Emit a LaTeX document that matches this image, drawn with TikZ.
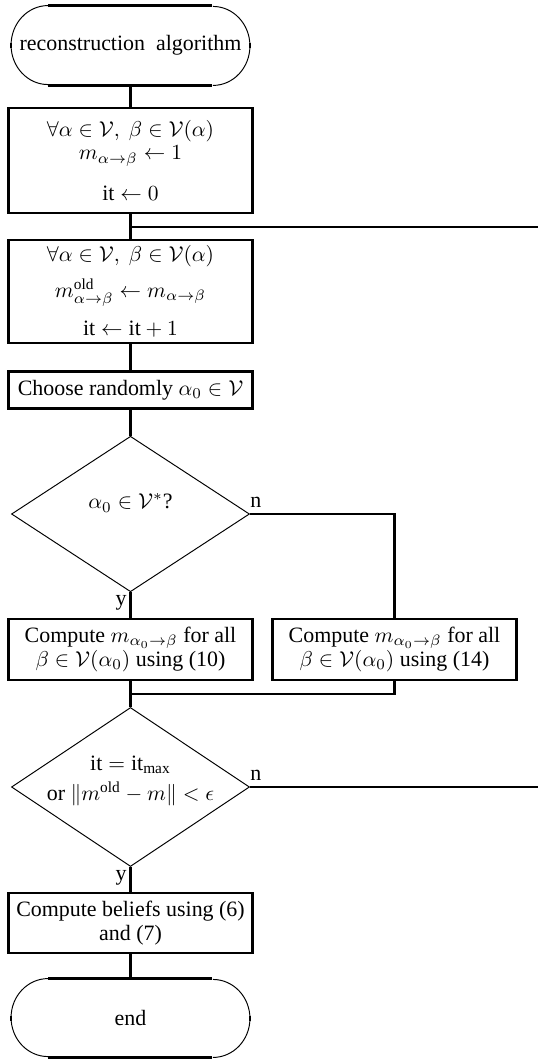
\documentclass[tikz,border=0pt]{standalone}
\usepackage{fontspec}
\setmainfont{Liberation Serif}
\usetikzlibrary{shapes.geometric}
\newcommand\pxs{0.465pt}
\newcommand\drawterm[2]{%
  \draw[thickline] (#1.north west) ++(37,0) -- ++(164,0);
  \draw[thickline] (#1.south west) ++(37,0) -- ++(164,0);
  \draw[thinline] (#1.north west) ++(37,0) arc[start angle=90,end angle=270,x radius={37*\pxs},y radius={#2*\pxs}];
  \draw[thinline] (#1.south east) ++(-37,0) arc[start angle=270,end angle=450,x radius={37*\pxs},y radius={#2*\pxs}];
  \draw[line width=1.3pt] (#1.west) ++(0,-2.5) -- ++(0,5);
  \draw[line width=1.3pt] (#1.east) ++(0,-2.5) -- ++(0,5);
}
\begin{document}
\begin{tikzpicture}[x=0.465pt,y=-0.465pt,
  font=\fontsize{10.2pt}{11pt}\selectfont,
  thinline/.style={line width=0.45pt},
  thickline/.style={line width=1.25pt},
  conn/.style={line width=1.25pt},
  procbox/.style={draw,line width=1.25pt,minimum width={244*\pxs},inner sep=0pt,align=center},
  decision/.style={draw,diamond,line width=0.45pt,inner sep=0pt,minimum width={238*\pxs}},
  termnode/.style={inner sep=0pt,minimum width={238*\pxs},minimum height={79*\pxs}},
  lbl/.style={inner sep=0pt}]
\useasboundingbox (0,0) rectangle (538,1059);

\node[termnode] (start) at (130.5,45.5) {reconstruction\ \ algorithm};
\drawterm{start}{39.5}

\node[procbox,minimum height={105*\pxs}] (b1) at (130.5,160.5)
  {$\forall\alpha\in\mathcal{V},\ \beta\in\mathcal{V}(\alpha)$\\
   $m_{\alpha\to\beta}\leftarrow 1$\\[8pt]
   $\mathrm{it}\leftarrow 0$};
\coordinate (j1) at (130.5,227);
\coordinate (j1r) at (538,227);

\node[procbox,minimum height={103*\pxs}] (b2) at (130.5,291.5)
  {$\forall\alpha\in\mathcal{V},\ \beta\in\mathcal{V}(\alpha)$\\[4.5pt]
   $m^{\mathrm{old}}_{\alpha\to\beta}\leftarrow m_{\alpha\to\beta}$\\[6pt]
   $\mathrm{it}\leftarrow\mathrm{it}+1$};

\node[procbox,minimum height={36.5*\pxs}] (b3) at (130.5,390)
  {Choose randomly $\alpha_0\in\mathcal{V}$};

\node[decision,minimum height={155.5*\pxs}] (d1) at (130.5,514) {};
\node[lbl] (d1t) at (130.5,503) {$\alpha_0\in\mathcal{V}^*$?};
\node[lbl,anchor=base west] (d1n) at (250,507) {n};
\node[lbl,anchor=north east] (d1y) at (127,595) {y};

\node[procbox,minimum height={61*\pxs}] (b4) at (130.5,649.5)
  {Compute $m_{\alpha_0\to\beta}$ for all\\ $\beta\in\mathcal{V}(\alpha_0)$ using (10)};
\node[procbox,minimum height={61*\pxs}] (b5) at (394.5,649.5)
  {Compute $m_{\alpha_0\to\beta}$ for all\\ $\beta\in\mathcal{V}(\alpha_0)$ using (14)};
\coordinate (m1) at (130.5,694);

\node[decision,minimum height={159*\pxs}] (d2) at (130.5,787) {};
\node[lbl,align=center] (d2t) at (130.5,781)
  {$\mathrm{it}=\mathrm{it}_{\mathrm{max}}$\\[3pt] or $\|m^{\mathrm{old}}-m\|<\epsilon$};
\node[lbl,anchor=base west] (d2n) at (250,780) {n};
\node[lbl,anchor=north east] (d2y) at (127,870) {y};
\coordinate (d2r) at (538,787);

\node[procbox,minimum height={60*\pxs}] (b6) at (130.5,923)
  {Compute beliefs using (6)\\ and (7)};

\node[termnode,minimum height={78*\pxs}] (end) at (130.5,1018) {end};
\drawterm{end}{39}

\draw[conn] (start.south) -- (b1.north);
\draw[conn] (b1.south) -- (b2.north);
\draw[conn] (j1r) -- (j1);
\draw[conn] (b2.south) -- (b3.north);
\draw[conn] (b3.south) -- (d1.north);
\draw[conn] (d1.east) -| (b5.north);
\draw[conn] (d1.south) -- (b4.north);
\draw[conn] (b4.south) -- (d2.north);
\draw[conn] (b5.south) |- (m1);
\draw[conn] (d2.east) -- (d2r);
\draw[conn] (d2.south) -- (b6.north);
\draw[conn] (b6.south) -- (end.north);
\end{tikzpicture}
\end{document}
